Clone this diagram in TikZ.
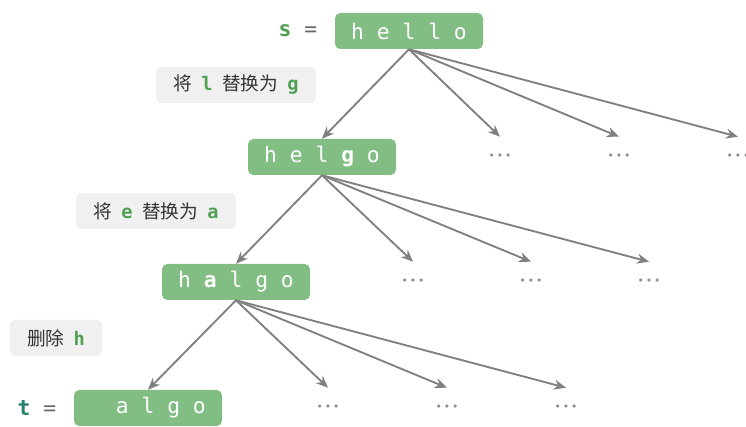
\documentclass[tikz,border=0pt]{standalone}
\usepackage{fontspec}
\setmonofont{DejaVu Sans Mono}
\newfontfamily\cjk{Noto Sans CJK SC}
\newfontfamily\symfont{DejaVu Sans}
\usetikzlibrary{arrows.meta, positioning}

\definecolor{boxgreen}{RGB}{130,189,132}
\definecolor{opgray}{RGB}{240,240,240}
\definecolor{optext}{RGB}{51,51,51}
\definecolor{hlgreen}{RGB}{80,160,84}
\definecolor{tteal}{RGB}{38,128,108}
\definecolor{edgegray}{RGB}{128,128,128}
\definecolor{dotgray}{RGB}{140,140,140}

\newcommand{\hl}[1]{{\ttfamily\bfseries\color{hlgreen}#1}}
\newcommand{\gap}{\hspace{0.5em}}
\newcommand{\moredots}{•\hspace{1.4pt}•\hspace{1.4pt}•}

\tikzset{
    strbox/.style={fill=boxgreen, rounded corners=4pt, minimum width=111pt,
        minimum height=27pt, inner sep=0pt, text=white,
        font=\fontsize{16}{18}\selectfont\ttfamily},
    opbox/.style={fill=opgray, rounded corners=4pt, minimum height=27pt,
        inner xsep=13pt, inner ysep=0pt, text=optext,
        font=\fontsize{14}{16}\selectfont\cjk},
    varname/.style={inner sep=0pt, text=edgegray!80!black,
        font=\fontsize{16}{18}\selectfont\ttfamily},
    edge/.style={draw=edgegray, line width=1.4pt, -{Stealth[length=9pt, width=7.5pt]}},
    dots/.style={minimum height=30pt, inner sep=0pt, text=dotgray,
        font=\fontsize{8}{10}\selectfont\symfont},
}

\begin{document}
\begin{tikzpicture}[x=0.75pt, y=-0.75pt]
    \useasboundingbox (0,0) rectangle (746,427);
    % Strings
    \node[strbox] (hello) at (409,31) {h e l l o};
    \node[strbox] (helgo) at (322,157) {h e l \textbf{g} o};
    \node[strbox] (halgo) at (236,282) {h \textbf{a} l g o};
    \node[strbox] (algo) at (148,408) {\phantom{h} a l g o};
    \node[varname, left=13pt of hello] (s) {\textbf{\color{hlgreen}s} =};
    \node[varname, left=13pt of algo] (t) {\textbf{\color{tteal}t} =};
    % Operations
    \node[opbox] (op1) at (236,85) {将\gap{}\hl{l}\gap{}替换为\gap{}\hl{g}};
    \node[opbox] (op2) at (156,211) {将\gap{}\hl{e}\gap{}替换为\gap{}\hl{a}};
    \node[opbox] (op3) at (56,338) {删除\gap{}\hl{h}};
    % Edges
    \draw[edge] (hello.south) -- (helgo.north);
    \draw[edge] (helgo.south) -- (halgo.north);
    \draw[edge] (halgo.south) -- (algo.north);
    % Other branches
    \foreach \name/\x/\y/\from in {a1/500/157/hello, a2/619/157/hello, a3/738/157/hello,
        b1/413/282/helgo, b2/531/282/helgo, b3/649/282/helgo,
        c1/328/408/halgo, c2/447/408/halgo, c3/566/408/halgo}
    {
        \node[dots] (\name) at (\x,\y) {\moredots};
        \draw[edge] (\from.south) -- (\name.north);
    }
\end{tikzpicture}
\end{document}
